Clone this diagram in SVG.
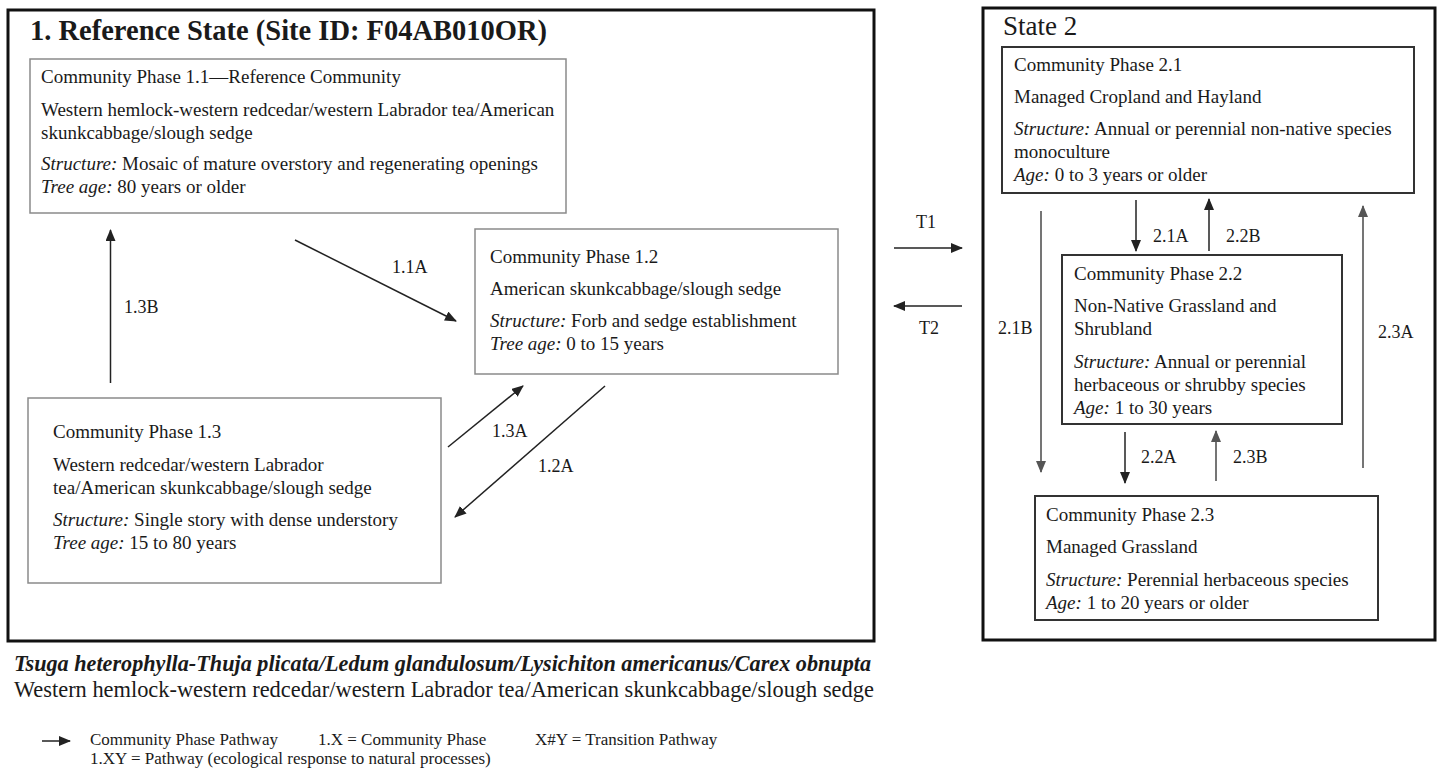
<svg xmlns="http://www.w3.org/2000/svg" width="1441" height="771" viewBox="0 0 1441 771">
<defs>
<marker id="ah" markerUnits="userSpaceOnUse" markerWidth="12" markerHeight="10" viewBox="0 0 12 10" refX="11" refY="5" orient="auto">
<path d="M0,0 L12,5 L0,10 z" fill="#222"/>
</marker>
<marker id="ahg" markerUnits="userSpaceOnUse" markerWidth="12" markerHeight="10" viewBox="0 0 12 10" refX="11" refY="5" orient="auto">
<path d="M0,0 L12,5 L0,10 z" fill="#555"/>
</marker>
</defs>
<style>
text{font-family:"Liberation Serif","Times New Roman",serif;fill:#1a1a1a}
.t{font-size:19px}
.t2{font-size:19px}
.i{font-style:italic}
.lbl{font-size:18px}
.state{fill:none;stroke:#111;stroke-width:3}
.b1{fill:#fff;stroke:#8a8a8a;stroke-width:1.5}
.b2{fill:#fff;stroke:#333;stroke-width:2}
.c{stroke:#222;stroke-width:1.5;fill:none;marker-end:url(#ah)}
.cg{stroke:#666;stroke-width:1.8;fill:none;marker-end:url(#ahg)}
.leg{font-size:17px}
</style>
<rect width="1441" height="771" fill="#fff"/>

<g id="state1">
<rect class="state" x="8" y="10" width="866" height="631"/>
<text x="30" y="40" style="font-size:28.5px;font-weight:bold">1. Reference State (Site ID: F04AB010OR)</text>
</g>

<g id="phase11">
<rect class="b1" x="30" y="59" width="536" height="154"/>
<text class="t" x="41" y="83">Community Phase 1.1—Reference Community</text>
<text class="t" x="41" y="116">Western hemlock-western redcedar/western Labrador tea/American</text>
<text class="t" x="41" y="139">skunkcabbage/slough sedge</text>
<text class="t" x="41" y="170"><tspan class="i">Structure:</tspan> Mosaic of mature overstory and regenerating openings</text>
<text class="t" x="41" y="193"><tspan class="i">Tree age:</tspan> 80 years or older</text>
</g>

<g id="phase12">
<rect class="b1" x="475" y="229" width="363" height="145"/>
<text class="t" x="490" y="263">Community Phase 1.2</text>
<text class="t" x="490" y="295">American skunkcabbage/slough sedge</text>
<text class="t" x="490" y="327"><tspan class="i">Structure:</tspan> Forb and sedge establishment</text>
<text class="t" x="490" y="350"><tspan class="i">Tree age:</tspan> 0 to 15 years</text>
</g>

<g id="phase13">
<rect class="b1" x="28" y="398" width="413" height="185"/>
<text class="t" x="53" y="438">Community Phase 1.3</text>
<text class="t" x="53" y="471">Western redcedar/western Labrador</text>
<text class="t" x="53" y="494">tea/American skunkcabbage/slough sedge</text>
<text class="t" x="53" y="526"><tspan class="i">Structure:</tspan> Single story with dense understory</text>
<text class="t" x="53" y="549"><tspan class="i">Tree age:</tspan> 15 to 80 years</text>
</g>

<g id="state2">
<rect class="state" x="983" y="8" width="452" height="632"/>
<text x="1003" y="35" style="font-size:27px">State 2</text>
</g>

<g id="phase21">
<rect class="b2" x="1002" y="47" width="412" height="146"/>
<text class="t2" x="1014" y="71">Community Phase 2.1</text>
<text class="t2" x="1014" y="103">Managed Cropland and Hayland</text>
<text class="t2" x="1014" y="135"><tspan class="i">Structure:</tspan> Annual or perennial non-native species</text>
<text class="t2" x="1014" y="158">monoculture</text>
<text class="t2" x="1014" y="181"><tspan class="i">Age:</tspan> 0 to 3 years or older</text>
</g>

<g id="phase22">
<rect class="b2" x="1062" y="255" width="280" height="169"/>
<text class="t2" x="1074" y="280">Community Phase 2.2</text>
<text class="t2" x="1074" y="312">Non-Native Grassland and</text>
<text class="t2" x="1074" y="335">Shrubland</text>
<text class="t2" x="1074" y="368"><tspan class="i">Structure:</tspan> Annual or perennial</text>
<text class="t2" x="1074" y="391">herbaceous or shrubby species</text>
<text class="t2" x="1074" y="414"><tspan class="i">Age:</tspan> 1 to 30 years</text>
</g>

<g id="phase23">
<rect class="b2" x="1035" y="496" width="343" height="124"/>
<text class="t2" x="1046" y="521">Community Phase 2.3</text>
<text class="t2" x="1046" y="553">Managed Grassland</text>
<text class="t2" x="1046" y="586"><tspan class="i">Structure:</tspan> Perennial herbaceous species</text>
<text class="t2" x="1046" y="609"><tspan class="i">Age:</tspan> 1 to 20 years or older</text>
</g>

<g id="connectors">
<line class="c" x1="295" y1="240" x2="456" y2="321"/>
<line class="c" x1="110.5" y1="383" x2="110.5" y2="230"/>
<line class="c" x1="448" y1="447" x2="523" y2="386"/>
<line class="c" x1="605" y1="386" x2="455" y2="517"/>
<line class="c" x1="894" y1="248" x2="962" y2="248"/>
<line class="c" x1="962" y1="306" x2="894" y2="306"/>
<line class="c" x1="1136" y1="200" x2="1136" y2="251"/>
<line class="c" x1="1209" y1="251" x2="1209" y2="199"/>
<line class="cg" x1="1041" y1="211" x2="1041" y2="472"/>
<line class="c" x1="1125" y1="432" x2="1125" y2="483"/>
<line class="cg" x1="1216" y1="481" x2="1216" y2="431"/>
<line class="cg" x1="1363" y1="468" x2="1363" y2="206"/>
<text class="lbl" x="392" y="273">1.1A</text>
<text class="lbl" x="124" y="313">1.3B</text>
<text class="lbl" x="492" y="437">1.3A</text>
<text class="lbl" x="538" y="472">1.2A</text>
<text class="lbl" x="916" y="228">T1</text>
<text class="lbl" x="919" y="334">T2</text>
<text class="lbl" x="1153" y="242">2.1A</text>
<text class="lbl" x="1226" y="242">2.2B</text>
<text class="lbl" x="998" y="334">2.1B</text>
<text class="lbl" x="1141" y="463">2.2A</text>
<text class="lbl" x="1233" y="463">2.3B</text>
<text class="lbl" x="1378" y="338">2.3A</text>
</g>

<g id="caption">
<text x="14" y="671" style="font-size:22.2px;font-weight:bold;font-style:italic">Tsuga heterophylla-Thuja plicata/Ledum glandulosum/Lysichiton americanus/Carex obnupta</text>
<text x="14" y="697" style="font-size:22.4px">Western hemlock-western redcedar/western Labrador tea/American skunkcabbage/slough sedge</text>
</g>

<g id="legend">
<line class="c" x1="42" y1="741" x2="70" y2="741"/>
<text class="leg" x="90" y="745">Community Phase Pathway</text>
<text class="leg" x="318" y="745">1.X = Community Phase</text>
<text class="leg" x="535" y="745">X#Y = Transition Pathway</text>
<text class="leg" x="90" y="764">1.XY = Pathway (ecological response to natural processes)</text>
</g>
</svg>
